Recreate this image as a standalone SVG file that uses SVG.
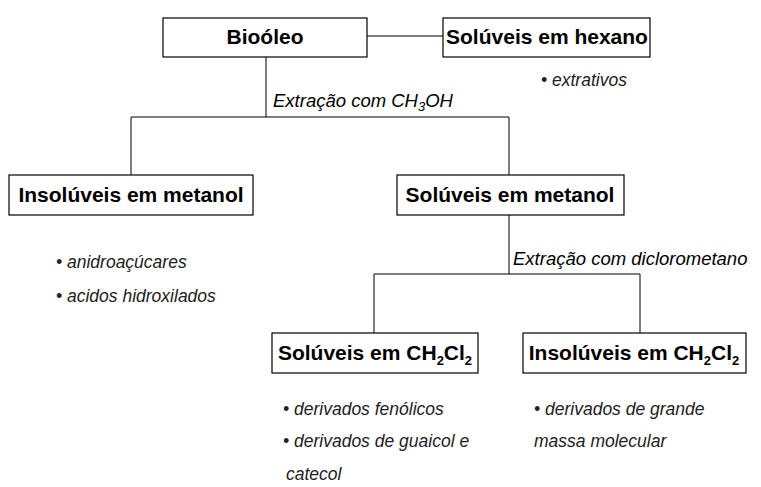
<svg xmlns="http://www.w3.org/2000/svg" width="761" height="487" viewBox="0 0 761 487">
<style>
.box{fill:#fff;stroke:#000;stroke-width:1.2}
.lbl{font-family:"Liberation Sans",Arial,sans-serif;font-weight:bold;font-size:21px;fill:#000;text-anchor:middle}
.ext{font-family:"Liberation Sans",Arial,sans-serif;font-style:italic;font-size:18.5px;fill:#000}
.itm{font-family:"Liberation Sans",Arial,sans-serif;font-style:italic;font-size:17.5px;fill:#222}
.sub{font-size:13px}
.con{fill:none;stroke:#000;stroke-width:1}
</style>
<rect width="761" height="487" fill="#fff"/>
<g id="connectors">
<line class="con" x1="367" y1="36" x2="443" y2="36"/>
<polyline class="con" points="266,57 266,117"/>
<polyline class="con" points="131,175 131,117 509,117 509,175"/>
<polyline class="con" points="509,215 509,274"/>
<polyline class="con" points="374,333 374,274 640,274 640,333"/>
<text class="ext" x="273" y="107">Extração com CH<tspan class="sub" dy="4">3</tspan><tspan dy="-4">OH</tspan></text>
<text class="ext" x="513" y="265">Extração com diclorometano</text>
</g>
<g id="bioleo">
<rect class="box" x="163" y="18" width="204" height="39"/>
<text class="lbl" x="265" y="44">Bioóleo</text>
</g>
<g id="hexano">
<rect class="box" x="443" y="18" width="207" height="39"/>
<text class="lbl" x="547" y="44">Solúveis em hexano</text>
<text class="itm" x="541" y="86">• extrativos</text>
</g>
<g id="insol-metanol">
<rect class="box" x="9" y="175" width="244" height="40"/>
<text class="lbl" x="131" y="202">Insolúveis em metanol</text>
<text class="itm" x="56" y="268">• anidroaçúcares</text>
<text class="itm" x="56" y="302">• acidos hidroxilados</text>
</g>
<g id="sol-metanol">
<rect class="box" x="397" y="175" width="227" height="40"/>
<text class="lbl" x="510" y="202">Solúveis em metanol</text>
</g>
<g id="sol-ch2cl2">
<rect class="box" x="272" y="333" width="206" height="40"/>
<text class="lbl" x="375" y="360">Solúveis em CH<tspan class="sub" dy="5">2</tspan><tspan dy="-5">Cl</tspan><tspan class="sub" dy="5">2</tspan></text>
<text class="itm" x="283" y="415">• derivados fenólicos</text>
<text class="itm" x="283" y="447">• derivados de guaicol e</text>
<text class="itm" x="286" y="480">catecol</text>
</g>
<g id="insol-ch2cl2">
<rect class="box" x="523" y="333" width="223" height="40"/>
<text class="lbl" x="634" y="360">Insolúveis em CH<tspan class="sub" dy="5">2</tspan><tspan dy="-5">Cl</tspan><tspan class="sub" dy="5">2</tspan></text>
<text class="itm" x="534" y="415">• derivados de grande</text>
<text class="itm" x="534" y="447">massa molecular</text>
</g>
</svg>
